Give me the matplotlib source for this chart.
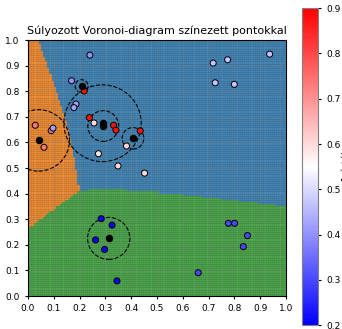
import matplotlib.pyplot as plt
import numpy as np
from matplotlib.colors import ListedColormap, to_rgb

# régiók (súlyozott Voronoi) középpontjai és súlyai
site_x = [0.04, 0.31, 0.31]
site_y = [0.60, 0.665, 0.22]
site_w = [-0.03, 0.0, -0.057]
region_colors = ['#ff7f0e', '#1f77b4', '#2ca02c']

# generátorok és körök sugarai
gen_x = [0.041, 0.208, 0.289, 0.292, 0.407, 0.313]
gen_y = [0.608, 0.820, 0.675, 0.664, 0.616, 0.225]
circ_r = [0.12, 0.025, 0.15, 0.06, 0.042, 0.082]

# színezett pontok
pt_x = [0.240, 0.169, 0.218, 0.186, 0.178, 0.238, 0.256, 0.332, 0.341, 0.435,
        0.382, 0.273, 0.349, 0.452, 0.028, 0.090, 0.097, 0.062,
        0.284, 0.326, 0.262, 0.297, 0.345,
        0.777, 0.801, 0.851, 0.835, 0.660,
        0.718, 0.774, 0.937, 0.726, 0.800]
pt_y = [0.941, 0.841, 0.801, 0.750, 0.736, 0.697, 0.676, 0.667, 0.648, 0.645,
        0.586, 0.556, 0.508, 0.480, 0.667, 0.646, 0.656, 0.581,
        0.302, 0.277, 0.219, 0.182, 0.059,
        0.284, 0.284, 0.236, 0.193, 0.091,
        0.910, 0.923, 0.945, 0.833, 0.827]
r1 = [0.40, 0.40, 0.88, 0.42, 0.42, 0.88, 0.60, 0.88, 0.88, 0.88,
      0.61, 0.59, 0.60, 0.60, 0.74, 0.74, 0.42, 0.74,
      0.21, 0.21, 0.21, 0.21, 0.21,
      0.30, 0.30, 0.30, 0.30, 0.30,
      0.47, 0.47, 0.47, 0.47, 0.47]

n = 120
gx = np.linspace(0, 1, n + 1)
cx = (gx[:-1] + gx[1:]) / 2
X, Y = np.meshgrid(cx, cx)
score = np.stack([np.hypot(X - sx, Y - sy) - w
                  for sx, sy, w in zip(site_x, site_y, site_w)])
labels = np.argmin(score, axis=0)

# alpha=0.8 fehér háttéren, előre keverve (hogy a rácsvonal ne sötétedjen)
mixed = [0.8 * np.array(to_rgb(c)) + 0.2 for c in region_colors]

fig = plt.figure(figsize=(3.42, 3.29), dpi=100)
ax = fig.add_axes([0.0819, 0.1003, 0.754, 0.778])
cax = fig.add_axes([0.884, 0.012, 0.046, 0.963])

ax.pcolormesh(gx, gx, labels, cmap=ListedColormap(mixed), vmin=-0.5, vmax=2.5,
              edgecolors=(0, 0, 0, 0.07), linewidth=0.25)

for x, y, r in zip(gen_x, gen_y, circ_r):
    ax.add_patch(plt.Circle((x, y), r, fill=False, ls='--', color='k', lw=0.8))

sc = ax.scatter(pt_x, pt_y, c=r1, cmap='bwr', vmin=0.2, vmax=0.9, s=19,
                edgecolors='k', linewidths=0.7, zorder=3)
ax.scatter(gen_x, gen_y, c='k', s=19, zorder=4)

ax.set_xlim(0, 1)
ax.set_ylim(0, 1)
ax.set_xticks(np.arange(0, 1.01, 0.1))
ax.set_yticks(np.arange(0, 1.01, 0.1))
ax.tick_params(labelsize=6.5, length=2.5)
ax.grid(True, color='grey', alpha=0.35, lw=0.6)
ax.set_title("Súlyozott Voronoi-diagram színezett pontokkal", fontsize=8, pad=4)

cb = fig.colorbar(sc, cax=cax)
cb.set_label("r1 érték", fontsize=6.5, labelpad=1)
cb.ax.tick_params(labelsize=6.5, length=2.5)
cb.outline.set_edgecolor('grey')

fig.savefig("out.png", dpi=100)
